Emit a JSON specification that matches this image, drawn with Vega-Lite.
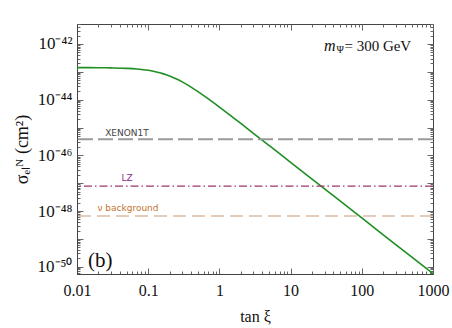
{
  "$schema": "https://vega.github.io/schema/vega-lite/v6.json",
  "width": 356,
  "height": 250,
  "autosize": {"type": "none"},
  "padding": {"left": 77, "top": 24, "right": 19, "bottom": 54},
  "background": "white",
  "config": {
    "view": {"stroke": "#444444", "strokeWidth": 1},
    "axis": {
      "labelFont": "Liberation Serif",
      "titleFont": "Liberation Serif",
      "labelColor": "#111111",
      "titleColor": "#111111",
      "labelFontSize": 16,
      "titleFontSize": 16,
      "titleFontWeight": "normal",
      "domainColor": "#444444",
      "tickColor": "#666666",
      "grid": false
    }
  },
  "datasets": {
    "curve": [
      {"t": 0.01, "sigma": 1.41e-43},
      {"t": 0.02, "sigma": 1.40e-43},
      {"t": 0.03, "sigma": 1.38e-43},
      {"t": 0.05, "sigma": 1.33e-43},
      {"t": 0.07, "sigma": 1.26e-43},
      {"t": 0.1, "sigma": 1.13e-43},
      {"t": 0.13, "sigma": 9.9e-44},
      {"t": 0.16, "sigma": 8.6e-44},
      {"t": 0.2, "sigma": 7.05e-44},
      {"t": 0.25, "sigma": 5.5e-44},
      {"t": 0.3, "sigma": 4.34e-44},
      {"t": 0.4, "sigma": 2.82e-44},
      {"t": 0.5, "sigma": 1.94e-44},
      {"t": 0.7, "sigma": 1.06e-44},
      {"t": 1, "sigma": 5.4e-45},
      {"t": 1.5, "sigma": 2.46e-45},
      {"t": 2, "sigma": 1.40e-45},
      {"t": 3, "sigma": 6.2e-46},
      {"t": 5, "sigma": 2.25e-46},
      {"t": 7, "sigma": 1.15e-46},
      {"t": 10, "sigma": 5.6e-47},
      {"t": 20, "sigma": 1.41e-47},
      {"t": 50, "sigma": 2.26e-48},
      {"t": 100, "sigma": 5.64e-49},
      {"t": 200, "sigma": 1.41e-49},
      {"t": 500, "sigma": 2.26e-50},
      {"t": 1000, "sigma": 5.64e-51}
    ],
    "limits": [
      {"name": "XENON1T", "sigma": 3.8e-46},
      {"name": "LZ", "sigma": 7.9e-48},
      {"name": "nu", "sigma": 6.6e-49}
    ],
    "labels": [
      {"name": "XENON1T", "text": "XENON1T", "t": 0.0504, "sigma": 6.6e-46},
      {"name": "LZ", "text": "LZ", "t": 0.0504, "sigma": 1.6e-47},
      {"name": "nu", "text": "ν  background", "t": 0.052, "sigma": 1.29e-48}
    ],
    "mass": [
      {"part": "m", "t": 29.4, "sigma": 5.7e-43},
      {"part": "Ψ", "t": 44.0, "sigma": 4.7e-43},
      {"part": "= 300 GeV", "t": 57, "sigma": 5.7e-43}
    ],
    "panel": [
      {"text": "(b)", "t": 0.0143, "sigma": 9.8e-51}
    ]
  },
  "resolve": {"axis": {"x": "independent", "y": "independent"}},
  "layer": [
    {
      "data": {"name": "curve"},
      "mark": {"type": "line", "color": "#1f8f24", "strokeWidth": 1.6, "interpolate": "monotone"},
      "encoding": {
        "x": {
          "field": "t", "type": "quantitative",
          "scale": {"type": "log", "domain": [0.01, 1000], "nice": false},
          "axis": {
            "orient": "bottom",
            "title": "tan ξ",
            "titlePadding": 7,
            "values": [0.01,0.02,0.03,0.04,0.05,0.06,0.07,0.08,0.09,0.1,0.2,0.3,0.4,0.5,0.6,0.7,0.8,0.9,1,2,3,4,5,6,7,8,9,10,20,30,40,50,60,70,80,90,100,200,300,400,500,600,700,800,900,1000],
            "labelExpr": "abs(log(datum.value)/LN10 - round(log(datum.value)/LN10)) < 0.001 ? format(datum.value, '~g') : ''",
            "tickSize": {"condition": {"test": "abs(log(datum.value)/LN10 - round(log(datum.value)/LN10)) < 0.001", "value": -6}, "value": -3},
            "labelPadding": 14,
            "labelFlush": false,
            "labelOverlap": false
          }
        },
        "y": {
          "field": "sigma", "type": "quantitative",
          "scale": {"type": "log", "domain": [5.5e-51, 5.2e-42], "nice": false},
          "axis": {
            "orient": "left",
            "title": "σₑₗᴺ (cm²)",
            "titleFontSize": 18,
            "titlePadding": 6,
            "values": [6e-51,7e-51,8e-51,9e-51,1e-50,2e-50,3e-50,4e-50,5e-50,6e-50,7e-50,8e-50,9e-50,1e-49,2e-49,3e-49,4e-49,5e-49,6e-49,7e-49,8e-49,9e-49,1e-48,2e-48,3e-48,4e-48,5e-48,6e-48,7e-48,8e-48,9e-48,1e-47,2e-47,3e-47,4e-47,5e-47,6e-47,7e-47,8e-47,9e-47,1e-46,2e-46,3e-46,4e-46,5e-46,6e-46,7e-46,8e-46,9e-46,1e-45,2e-45,3e-45,4e-45,5e-45,6e-45,7e-45,8e-45,9e-45,1e-44,2e-44,3e-44,4e-44,5e-44,6e-44,7e-44,8e-44,9e-44,1e-43,2e-43,3e-43,4e-43,5e-43,6e-43,7e-43,8e-43,9e-43,1e-42,2e-42,3e-42,4e-42,5e-42],
            "labelExpr": "abs(log(datum.value)/LN10 - round(log(datum.value)/LN10)) < 0.001 && round(log(datum.value)/LN10) % 2 == 0 ? (round(log(datum.value)/LN10) == -42 ? '10⁻⁴²' : round(log(datum.value)/LN10) == -44 ? '10⁻⁴⁴' : round(log(datum.value)/LN10) == -46 ? '10⁻⁴⁶' : round(log(datum.value)/LN10) == -48 ? '10⁻⁴⁸' : '10⁻⁵⁰') : ''",
            "tickSize": {"condition": {"test": "abs(log(datum.value)/LN10 - round(log(datum.value)/LN10)) < 0.001", "value": -6}, "value": -3},
            "labelPadding": 11,
            "labelFontSize": 17,
            "labelOverlap": false,
            "labelFlush": false
          }
        }
      }
    },
    {
      "data": {"name": "limits"},
      "transform": [{"filter": "datum.name == 'XENON1T'"}],
      "mark": {"type": "rule", "color": "#9a9a9a", "strokeWidth": 2, "strokeDash": [15, 5]},
      "encoding": {
        "y": {"field": "sigma", "type": "quantitative", "scale": {"type": "log"}, "axis": null}
      }
    },
    {
      "data": {"name": "limits"},
      "transform": [{"filter": "datum.name == 'LZ'"}],
      "mark": {"type": "rule", "color": "#a0336f", "strokeWidth": 1.2, "strokeDash": [8, 3, 1.5, 3]},
      "encoding": {
        "y": {"field": "sigma", "type": "quantitative", "scale": {"type": "log"}, "axis": null}
      }
    },
    {
      "data": {"name": "limits"},
      "transform": [{"filter": "datum.name == 'nu'"}],
      "mark": {"type": "rule", "color": "#dcbca4", "strokeWidth": 1.5, "strokeDash": [13, 6]},
      "encoding": {
        "y": {"field": "sigma", "type": "quantitative", "scale": {"type": "log"}, "axis": null}
      }
    },
    {
      "data": {"name": "labels"},
      "transform": [{"filter": "datum.name == 'XENON1T'"}],
      "mark": {"type": "text", "font": "DejaVu Sans", "fontSize": 9, "color": "#444444", "align": "center", "baseline": "middle"},
      "encoding": {
        "x": {"field": "t", "type": "quantitative", "scale": {"type": "log"}, "axis": null},
        "y": {"field": "sigma", "type": "quantitative", "scale": {"type": "log"}, "axis": null},
        "text": {"field": "text"}
      }
    },
    {
      "data": {"name": "labels"},
      "transform": [{"filter": "datum.name == 'LZ'"}],
      "mark": {"type": "text", "font": "DejaVu Sans", "fontSize": 9, "color": "#8a2c8c", "align": "center", "baseline": "middle"},
      "encoding": {
        "x": {"field": "t", "type": "quantitative", "scale": {"type": "log"}, "axis": null},
        "y": {"field": "sigma", "type": "quantitative", "scale": {"type": "log"}, "axis": null},
        "text": {"field": "text"}
      }
    },
    {
      "data": {"name": "labels"},
      "transform": [{"filter": "datum.name == 'nu'"}],
      "mark": {"type": "text", "font": "DejaVu Sans", "fontSize": 9, "color": "#c4742e", "align": "center", "baseline": "middle"},
      "encoding": {
        "x": {"field": "t", "type": "quantitative", "scale": {"type": "log"}, "axis": null},
        "y": {"field": "sigma", "type": "quantitative", "scale": {"type": "log"}, "axis": null},
        "text": {"field": "text"}
      }
    },
    {
      "data": {"name": "mass"},
      "transform": [{"filter": "datum.part == 'm'"}],
      "mark": {"type": "text", "font": "Liberation Serif", "fontSize": 16, "fontStyle": "italic", "color": "#111111", "align": "left", "baseline": "alphabetic"},
      "encoding": {
        "x": {"field": "t", "type": "quantitative", "scale": {"type": "log"}, "axis": null},
        "y": {"field": "sigma", "type": "quantitative", "scale": {"type": "log"}, "axis": null},
        "text": {"field": "part"}
      }
    },
    {
      "data": {"name": "mass"},
      "transform": [{"filter": "datum.part == 'Ψ'"}],
      "mark": {"type": "text", "font": "Liberation Serif", "fontSize": 10, "color": "#111111", "align": "left", "baseline": "alphabetic"},
      "encoding": {
        "x": {"field": "t", "type": "quantitative", "scale": {"type": "log"}, "axis": null},
        "y": {"field": "sigma", "type": "quantitative", "scale": {"type": "log"}, "axis": null},
        "text": {"field": "part"}
      }
    },
    {
      "data": {"name": "mass"},
      "transform": [{"filter": "datum.part == '= 300 GeV'"}],
      "mark": {"type": "text", "font": "Liberation Serif", "fontSize": 15, "color": "#111111", "align": "left", "baseline": "alphabetic"},
      "encoding": {
        "x": {"field": "t", "type": "quantitative", "scale": {"type": "log"}, "axis": null},
        "y": {"field": "sigma", "type": "quantitative", "scale": {"type": "log"}, "axis": null},
        "text": {"field": "part"}
      }
    },
    {
      "data": {"name": "panel"},
      "mark": {"type": "text", "font": "Liberation Serif", "fontSize": 21, "color": "#111111", "align": "left", "baseline": "alphabetic"},
      "encoding": {
        "x": {"field": "t", "type": "quantitative", "scale": {"type": "log"},
          "axis": {
            "orient": "top", "title": null, "labels": false, "domain": false,
            "values": [0.01,0.02,0.03,0.04,0.05,0.06,0.07,0.08,0.09,0.1,0.2,0.3,0.4,0.5,0.6,0.7,0.8,0.9,1,2,3,4,5,6,7,8,9,10,20,30,40,50,60,70,80,90,100,200,300,400,500,600,700,800,900,1000],
            "tickSize": {"condition": {"test": "abs(log(datum.value)/LN10 - round(log(datum.value)/LN10)) < 0.001", "value": -6}, "value": -3}
          }
        },
        "y": {"field": "sigma", "type": "quantitative", "scale": {"type": "log"},
          "axis": {
            "orient": "right", "title": null, "labels": false, "domain": false,
            "values": [6e-51,7e-51,8e-51,9e-51,1e-50,2e-50,3e-50,4e-50,5e-50,6e-50,7e-50,8e-50,9e-50,1e-49,2e-49,3e-49,4e-49,5e-49,6e-49,7e-49,8e-49,9e-49,1e-48,2e-48,3e-48,4e-48,5e-48,6e-48,7e-48,8e-48,9e-48,1e-47,2e-47,3e-47,4e-47,5e-47,6e-47,7e-47,8e-47,9e-47,1e-46,2e-46,3e-46,4e-46,5e-46,6e-46,7e-46,8e-46,9e-46,1e-45,2e-45,3e-45,4e-45,5e-45,6e-45,7e-45,8e-45,9e-45,1e-44,2e-44,3e-44,4e-44,5e-44,6e-44,7e-44,8e-44,9e-44,1e-43,2e-43,3e-43,4e-43,5e-43,6e-43,7e-43,8e-43,9e-43,1e-42,2e-42,3e-42,4e-42,5e-42],
            "tickSize": {"condition": {"test": "abs(log(datum.value)/LN10 - round(log(datum.value)/LN10)) < 0.001", "value": -6}, "value": -3}
          }
        },
        "text": {"field": "text"}
      }
    }
  ]
}
